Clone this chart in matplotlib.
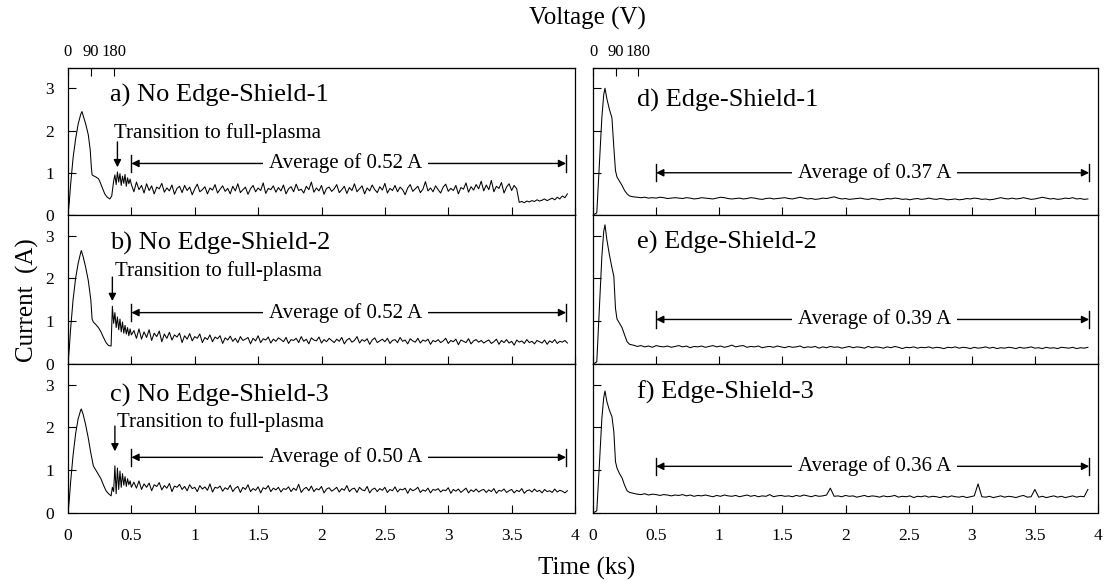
import numpy as np
import matplotlib
matplotlib.use('Agg')
import matplotlib.pyplot as plt

plt.rcParams['font.family'] = ['Liberation Serif', 'DejaVu Serif']

# ---- data (time in ks, current in A) ----
# panel a) No Edge-Shield-1
a_shape_t = [0, 0.01, 0.02, 0.04, 0.06, 0.08, 0.10, 0.11, 0.12, 0.14, 0.16, 0.175, 0.185,
             0.19, 0.20, 0.22, 0.24, 0.25, 0.27, 0.29, 0.31, 0.33, 0.345, 0.36]
a_shape_v = [0, 0.3, 0.7, 1.35, 1.8, 2.15, 2.38, 2.45, 2.35, 2.15, 1.9, 1.55, 1.1,
             0.95, 0.93, 0.9, 0.86, 0.8, 0.65, 0.5, 0.42, 0.38, 0.45, 0.8]
a_trans = [0.95, 0.72, 1.02, 0.78, 0.98, 0.7, 0.92, 0.75, 0.96, 0.68, 0.88, 0.74, 0.85]  # 0.37..0.49
a_steady = [  # 0.50..3.54 step 0.02
    0.72, 0.55, 0.78, 0.6, 0.7, 0.52, 0.74, 0.58, 0.69, 0.5, 0.66, 0.62, 0.75, 0.54, 0.64, 0.57, 0.71, 0.49, 0.63, 0.68,
    0.53, 0.7, 0.58, 0.66, 0.48, 0.62, 0.73, 0.55, 0.6, 0.67, 0.5, 0.64, 0.59, 0.72, 0.52, 0.61, 0.69, 0.56, 0.63, 0.5,
    0.68, 0.57, 0.74, 0.53, 0.6, 0.66, 0.49, 0.62, 0.7, 0.55, 0.64, 0.58, 0.76, 0.51, 0.63, 0.6, 0.69, 0.54, 0.65, 0.57,
    0.71, 0.5, 0.62, 0.67, 0.55, 0.73, 0.58, 0.61, 0.52, 0.68, 0.6, 0.78, 0.54, 0.64, 0.57, 0.7, 0.49, 0.63, 0.66, 0.56,
    0.62, 0.72, 0.53, 0.6, 0.68, 0.51, 0.65, 0.58, 0.74, 0.55, 0.62, 0.69, 0.5, 0.64, 0.57, 0.71, 0.6, 0.53, 0.67, 0.59,
    0.75, 0.52, 0.63, 0.58, 0.7, 0.55, 0.66, 0.6, 0.48, 0.64, 0.72, 0.56, 0.62, 0.68, 0.53, 0.61, 0.79, 0.57, 0.64, 0.55,
    0.69, 0.6, 0.52, 0.66, 0.73, 0.56, 0.63, 0.58, 0.7, 0.5, 0.65, 0.61, 0.76, 0.54, 0.67, 0.59, 0.72, 0.62, 0.8, 0.57,
    0.71, 0.6, 0.82, 0.55, 0.68, 0.63, 0.77, 0.52, 0.66, 0.74, 0.58, 0.7, 0.62]
a_tail = [0.3, 0.32, 0.29, 0.33, 0.31, 0.34, 0.32, 0.36, 0.33, 0.35,
          0.38, 0.34, 0.37, 0.4, 0.36, 0.42, 0.38, 0.45, 0.41, 0.5]  # 3.56..3.94

# panel b) No Edge-Shield-2
b_shape_t = [0, 0.01, 0.02, 0.04, 0.06, 0.08, 0.10, 0.105, 0.12, 0.14, 0.16, 0.18, 0.19,
             0.20, 0.22, 0.24, 0.26, 0.28, 0.30, 0.32, 0.34, 0.345, 0.35]
b_shape_v = [0, 0.35, 0.8, 1.5, 2.0, 2.35, 2.6, 2.65, 2.5, 2.25, 1.95, 1.5, 1.05,
             0.98, 0.92, 0.85, 0.75, 0.62, 0.5, 0.43, 0.42, 0.9, 1.35]
b_trans = [0.95, 1.2, 0.85, 1.1, 0.8, 1.05, 0.75, 0.98, 0.72, 0.9, 0.7, 0.85, 0.66, 0.82, 0.68]  # 0.36..0.50
b_steady = [  # 0.52..3.94 step 0.02
    0.78, 0.6, 0.82, 0.58, 0.75, 0.62, 0.8, 0.55, 0.72, 0.64, 0.77, 0.52, 0.7, 0.6, 0.74, 0.56, 0.68, 0.63, 0.72, 0.5,
    0.66, 0.58, 0.71, 0.54, 0.64, 0.6, 0.7, 0.5, 0.62, 0.57, 0.68, 0.52, 0.63, 0.59, 0.66, 0.48, 0.61, 0.56, 0.65, 0.53,
    0.6, 0.5, 0.64, 0.55, 0.58, 0.62, 0.47, 0.6, 0.54, 0.66, 0.5, 0.59, 0.56, 0.63, 0.49, 0.58, 0.53, 0.61, 0.57, 0.52,
    0.62, 0.48, 0.57, 0.55, 0.6, 0.5, 0.64, 0.53, 0.58, 0.47, 0.61, 0.56, 0.54, 0.63, 0.49, 0.57, 0.52, 0.6, 0.55, 0.5,
    0.58, 0.53, 0.62, 0.47, 0.56, 0.6, 0.51, 0.55, 0.64, 0.49, 0.57, 0.53, 0.59, 0.46, 0.56, 0.61, 0.5, 0.54, 0.58, 0.52,
    0.6, 0.48, 0.55, 0.57, 0.5, 0.62, 0.53, 0.56, 0.47, 0.59, 0.54, 0.51, 0.6, 0.49, 0.56, 0.53, 0.58, 0.46, 0.55, 0.52,
    0.57, 0.5, 0.54, 0.6, 0.48, 0.55, 0.52, 0.58, 0.45, 0.56, 0.53, 0.5, 0.59, 0.47, 0.54, 0.57, 0.51, 0.55, 0.49, 0.53,
    0.56, 0.48, 0.52, 0.58, 0.46, 0.55, 0.5, 0.57, 0.49, 0.53, 0.44, 0.56, 0.51, 0.54, 0.48, 0.57, 0.5, 0.53, 0.47, 0.55,
    0.52, 0.49, 0.56, 0.46, 0.54, 0.5, 0.57, 0.48, 0.53, 0.51, 0.55, 0.49]

# panel c) No Edge-Shield-3
c_shape_t = [0, 0.01, 0.02, 0.04, 0.06, 0.08, 0.10, 0.105, 0.12, 0.14, 0.16, 0.18, 0.20,
             0.22, 0.24, 0.26, 0.28, 0.30, 0.32, 0.34, 0.35, 0.36, 0.37]
c_shape_v = [0, 0.3, 0.7, 1.35, 1.85, 2.2, 2.4, 2.43, 2.3, 2.05, 1.75, 1.4, 1.1,
             1.0, 0.9, 0.8, 0.65, 0.52, 0.45, 0.4, 0.6, 0.5, 1.1]
c_trans = [0.45, 1.05, 0.55, 0.98, 0.6, 0.92, 0.65, 0.85, 0.62, 0.8, 0.66, 0.75, 0.6]  # 0.38..0.50
c_steady = [  # 0.52..3.94 step 0.02
    0.72, 0.58, 0.75, 0.55, 0.68, 0.6, 0.7, 0.52, 0.66, 0.62, 0.71, 0.54, 0.64, 0.58, 0.69, 0.5, 0.63, 0.6, 0.67, 0.55,
    0.62, 0.52, 0.66, 0.57, 0.6, 0.5, 0.64, 0.56, 0.61, 0.53, 0.68, 0.49, 0.6, 0.58, 0.63, 0.51, 0.59, 0.55, 0.65, 0.5,
    0.58, 0.62, 0.48, 0.6, 0.55, 0.66, 0.5, 0.57, 0.53, 0.61, 0.47, 0.59, 0.56, 0.64, 0.5, 0.58, 0.54, 0.6, 0.49, 0.57,
    0.55, 0.61, 0.5, 0.58, 0.53, 0.67, 0.48, 0.56, 0.6, 0.52, 0.63, 0.5, 0.57, 0.54, 0.62, 0.47, 0.56, 0.59, 0.51, 0.55,
    0.6, 0.49, 0.57, 0.53, 0.64, 0.5, 0.56, 0.58, 0.48, 0.6, 0.54, 0.52, 0.62, 0.47, 0.55, 0.58, 0.5, 0.57, 0.53, 0.6,
    0.48, 0.55, 0.52, 0.61, 0.49, 0.56, 0.54, 0.58, 0.46, 0.57, 0.52, 0.55, 0.6, 0.48, 0.54, 0.51, 0.58, 0.47, 0.55, 0.53,
    0.57, 0.49, 0.54, 0.52, 0.59, 0.46, 0.55, 0.51, 0.56, 0.48, 0.53, 0.58, 0.47, 0.54, 0.5, 0.56, 0.49, 0.53, 0.55, 0.48,
    0.54, 0.5, 0.57, 0.46, 0.53, 0.51, 0.56, 0.48, 0.52, 0.55, 0.47, 0.53, 0.5, 0.57, 0.46, 0.52, 0.54, 0.49, 0.56, 0.5,
    0.53, 0.47, 0.55, 0.5, 0.52, 0.48, 0.56, 0.49, 0.53, 0.51, 0.47, 0.52]

# right column: d), e), f) Edge-Shield
r_shape_t = [0, 0.03, 0.05, 0.07, 0.085, 0.095, 0.11, 0.13, 0.15, 0.165, 0.178, 0.19,
             0.21, 0.23, 0.25, 0.27, 0.29]
d_shape_v = [0, 0.05, 1.2, 2.3, 2.85, 3.0, 2.75, 2.5, 2.3, 1.6, 1.05, 0.9, 0.8, 0.7, 0.58, 0.5, 0.45]
e_shape_v = [0, 0.05, 1.3, 2.5, 3.1, 3.25, 2.9, 2.55, 2.25, 2.05, 1.3, 1.05, 0.95, 0.85, 0.68, 0.52, 0.46]
f_shape_v = [0, 0.05, 1.1, 2.2, 2.7, 2.85, 2.6, 2.4, 2.25, 1.9, 1.2, 1.05, 0.92, 0.82, 0.65, 0.52, 0.48]
d_steady = [  # 0.32..3.92 step 0.03
    0.43, 0.42, 0.41, 0.42, 0.4, 0.41, 0.4, 0.42, 0.41, 0.39, 0.4, 0.41, 0.4, 0.39, 0.41, 0.4, 0.38, 0.39, 0.41, 0.4,
    0.39, 0.38, 0.4, 0.42, 0.41, 0.39, 0.38, 0.39, 0.4, 0.38, 0.39, 0.41, 0.4, 0.38, 0.37, 0.39, 0.4, 0.38, 0.39, 0.4,
    0.41, 0.39, 0.38, 0.4, 0.42, 0.4, 0.38, 0.39, 0.37, 0.38, 0.4, 0.39, 0.41, 0.43, 0.4, 0.38, 0.39, 0.37, 0.38, 0.39,
    0.4, 0.38, 0.37, 0.39, 0.38, 0.36, 0.37, 0.39, 0.38, 0.4, 0.39, 0.37, 0.38, 0.36, 0.38, 0.39, 0.37, 0.38, 0.4, 0.38,
    0.37, 0.39, 0.38, 0.36, 0.37, 0.38, 0.36, 0.37, 0.39, 0.38, 0.4, 0.39, 0.37, 0.38, 0.36, 0.37, 0.39, 0.41, 0.39, 0.38,
    0.4, 0.38, 0.39, 0.41, 0.39, 0.37, 0.38, 0.4, 0.42, 0.4, 0.38, 0.39, 0.37, 0.38, 0.4, 0.39, 0.41, 0.38, 0.39, 0.37,
    0.38]
e_steady = [
    0.44, 0.41, 0.43, 0.4, 0.42, 0.39, 0.43, 0.41, 0.4, 0.42, 0.39, 0.41, 0.43, 0.4, 0.42, 0.38, 0.41, 0.4, 0.42, 0.39,
    0.41, 0.43, 0.4, 0.42, 0.39, 0.41, 0.44, 0.4, 0.42, 0.43, 0.39, 0.41, 0.4, 0.42, 0.38, 0.4, 0.41, 0.39, 0.42, 0.4,
    0.38, 0.41, 0.39, 0.4, 0.42, 0.38, 0.4, 0.39, 0.41, 0.37, 0.4, 0.38, 0.41, 0.39, 0.4, 0.37, 0.39, 0.41, 0.38, 0.4,
    0.39, 0.37, 0.41, 0.38, 0.4, 0.39, 0.37, 0.4, 0.38, 0.41, 0.39, 0.36, 0.39, 0.38, 0.4, 0.37, 0.39, 0.38, 0.4, 0.37,
    0.39, 0.38, 0.36, 0.39, 0.38, 0.4, 0.37, 0.39, 0.38, 0.36, 0.39, 0.37, 0.38, 0.4, 0.37, 0.39, 0.36, 0.38, 0.37, 0.39,
    0.38, 0.36, 0.39, 0.37, 0.38, 0.4, 0.37, 0.38, 0.36, 0.39, 0.37, 0.38, 0.36, 0.39, 0.38, 0.37, 0.39, 0.36, 0.38, 0.37,
    0.39]
f_steady = [
    0.46, 0.44, 0.43, 0.45, 0.42, 0.44, 0.43, 0.41, 0.43, 0.42, 0.4, 0.42, 0.41, 0.43, 0.4, 0.42, 0.39, 0.41, 0.4, 0.42,
    0.4, 0.38, 0.41, 0.39, 0.42, 0.4, 0.39, 0.41, 0.38, 0.4, 0.42, 0.39, 0.41, 0.38, 0.4, 0.39, 0.43, 0.38, 0.4, 0.41,
    0.39, 0.4, 0.38, 0.41, 0.39, 0.42, 0.4, 0.38, 0.41, 0.39, 0.4, 0.42, 0.58, 0.39, 0.4, 0.38, 0.41, 0.39, 0.4, 0.37,
    0.39, 0.41, 0.38, 0.4, 0.39, 0.37, 0.4, 0.38, 0.39, 0.41, 0.37, 0.39, 0.38, 0.4, 0.36, 0.39, 0.38, 0.4, 0.37, 0.39,
    0.38, 0.36, 0.39, 0.37, 0.4, 0.38, 0.37, 0.39, 0.36, 0.38, 0.4, 0.68, 0.38, 0.37, 0.39, 0.36, 0.38, 0.4, 0.37, 0.39,
    0.38, 0.36, 0.39, 0.41, 0.37, 0.38, 0.55, 0.37, 0.39, 0.36, 0.38, 0.4, 0.37, 0.39, 0.36, 0.38, 0.4, 0.37, 0.39, 0.38,
    0.55]

labels = ['a) No Edge-Shield-1', 'b) No Edge-Shield-2', 'c) No Edge-Shield-3',
          'd) Edge-Shield-1', 'e) Edge-Shield-2', 'f) Edge-Shield-3']
averages = ['Average of 0.52 A', 'Average of 0.52 A', 'Average of 0.50 A',
            'Average of 0.37 A', 'Average of 0.39 A', 'Average of 0.36 A']
x_ticks = [0, 0.5, 1, 1.5, 2, 2.5, 3, 3.5, 4]
x_ticklabels = ['0', '0.5', '1', '1.5', '2', '2.5', '3', '3.5', '4']
v_ticks = [0, 0.18, 0.36]
v_ticklabels = ['0', '90', '180']


def trace(parts):
    t, v = [], []
    for tt, vv in parts:
        t += list(tt)
        v += list(vv)
    return np.array(t), np.array(v)


traces = [
    trace([(a_shape_t, a_shape_v), (np.linspace(0.37, 0.49, 13), a_trans),
           (np.linspace(0.50, 3.54, 153), a_steady), (np.linspace(3.56, 3.94, 20), a_tail)]),
    trace([(b_shape_t, b_shape_v), (np.linspace(0.36, 0.50, 15), b_trans),
           (np.linspace(0.52, 3.94, 172), b_steady)]),
    trace([(c_shape_t, c_shape_v), (np.linspace(0.38, 0.50, 13), c_trans),
           (np.linspace(0.52, 3.94, 172), c_steady)]),
    trace([(r_shape_t, d_shape_v), (np.linspace(0.32, 3.92, 121), d_steady)]),
    trace([(r_shape_t, e_shape_v), (np.linspace(0.32, 3.92, 121), e_steady)]),
    trace([(r_shape_t, f_shape_v), (np.linspace(0.32, 3.92, 121), f_steady)]),
]

# annotation positions (data units)
label_y = [2.84, 2.81, 2.74, 2.72, 2.83, 2.81]
label_x = [0.33, 0.33, 0.33, 0.35, 0.35, 0.35]
avg_y = [1.22, 1.2, 1.3, 1.0, 1.04, 1.09]
trans_x = [0.39, 0.35, 0.37]
trans_y = [(1.73, 1.13), (2.03, 1.47), (2.03, 1.44)]
trans_text = [(0.36, 1.95), (0.37, 2.17), (0.39, 2.13)]

fig = plt.figure(figsize=(11.07, 5.84), dpi=100)
W, H = 1107, 584
cols = [(68, 575), (593, 1098)]
rows = [(68, 215), (215, 364), (364, 513)]

for k in range(6):
    col, row = k // 3, k % 3
    x0, x1 = cols[col]
    y0, y1 = rows[row]
    ax = fig.add_axes([x0 / W, 1 - y1 / H, (x1 - x0) / W, (y1 - y0) / H])
    t, v = traces[k]
    ax.plot(t, v, color='black', lw=0.75)
    ax.set_xlim(0, 4)
    ax.set_ylim(0, 3.48)
    ax.set_xticks(x_ticks)
    ax.set_yticks([0, 1, 2, 3])
    ax.tick_params(direction='in', length=6, width=0.8, labelsize=12.5, colors='black')
    ax.tick_params(axis='x', pad=11)
    ax.tick_params(axis='y', pad=10)
    if row == 2:
        ax.set_xticklabels(x_ticklabels)
    else:
        ax.set_xticklabels([])
    if col == 1:
        ax.set_yticklabels([])
    for s in ax.spines.values():
        s.set_linewidth(0.9)

    ax.text(label_x[k], label_y[k], labels[k], fontsize=19, ha='left', va='center')

    # average arrow
    ya = avg_y[k]
    ax.annotate('', xy=(0.5, ya), xytext=(3.93, ya),
                arrowprops=dict(arrowstyle='<|-|>', color='black', lw=1,
                                mutation_scale=11, shrinkA=0, shrinkB=0))
    ax.plot([0.5, 0.5], [ya - 0.2, ya + 0.2], color='black', lw=1)
    ax.plot([3.93, 3.93], [ya - 0.2, ya + 0.2], color='black', lw=1)
    xc = 2.19 if col == 0 else 2.23
    ax.text(xc, ya, averages[k], fontsize=15, ha='center', va='center', zorder=5,
            bbox=dict(facecolor='white', edgecolor='none', pad=4))

    if col == 0:
        ys, ye = trans_y[row]
        ax.annotate('', xy=(trans_x[row], ye), xytext=(trans_x[row], ys),
                    arrowprops=dict(arrowstyle='-|>', color='black', lw=1,
                                    mutation_scale=11, shrinkA=0, shrinkB=0))
        tx, ty = trans_text[row]
        ax.text(tx, ty, 'Transition to full-plasma', fontsize=15, ha='left', va='center')

    if row == 0:
        top = ax.secondary_xaxis('top')
        top.set_xticks(v_ticks)
        top.set_xticklabels(v_ticklabels)
        top.tick_params(direction='in', length=6, width=0.8, labelsize=12, pad=6)

fig.text(587 / W, 1 - 18 / H, 'Voltage (V)', fontsize=18, ha='center', va='center')
fig.text(587 / W, 1 - 568 / H, 'Time (ks)', fontsize=18, ha='center', va='center')
fig.text(27 / W, 1 - 300 / H, 'Current  (A)', fontsize=18, ha='center', va='center', rotation=90)

fig.savefig('out.png', dpi=100)
